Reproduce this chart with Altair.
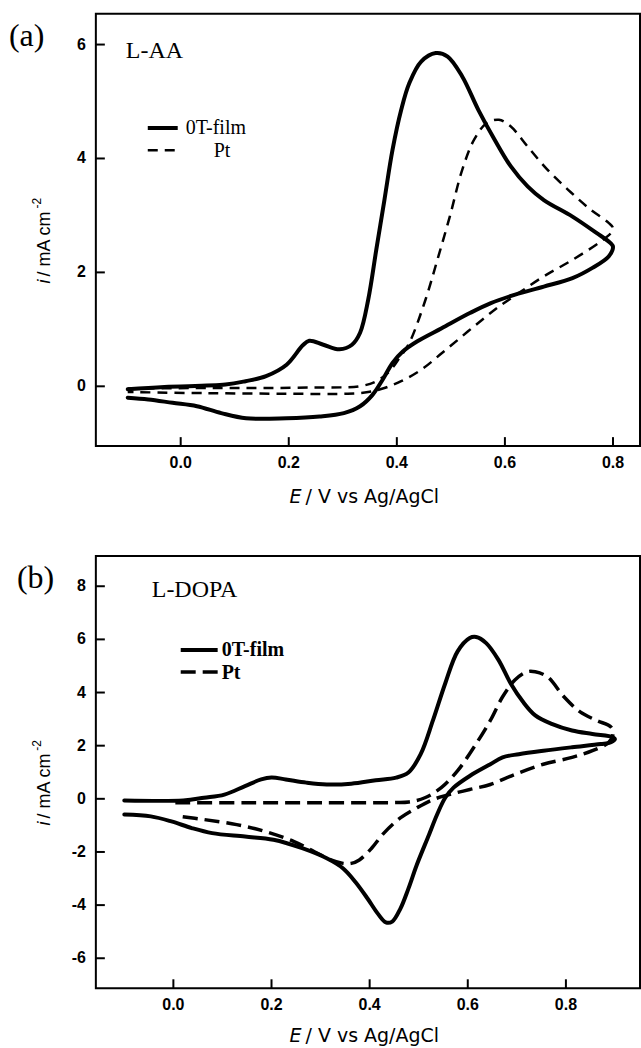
import altair as alt
import pandas as pd

# ---------------- Panel (a): L-AA ----------------
a_film_E = [-0.098, -0.03, 0.083, 0.12, 0.158, 0.196, 0.226, 0.238, 0.264, 0.294, 0.317, 0.332,
            0.347, 0.362, 0.377, 0.392, 0.408, 0.423, 0.445, 0.472, 0.494, 0.521, 0.551, 0.581,
            0.611, 0.642, 0.672, 0.725, 0.770, 0.796, 0.800,
            0.792, 0.762, 0.725, 0.672, 0.619, 0.574, 0.536, 0.483, 0.438, 0.411, 0.392, 0.374,
            0.355, 0.332, 0.302, 0.257, 0.196, 0.121, 0.075, 0.030, -0.015, -0.06, -0.098]
a_film_i = [-0.05, -0.01, 0.03, 0.09, 0.18, 0.38, 0.72, 0.80, 0.73, 0.65, 0.73, 0.94,
            1.52, 2.40, 3.27, 4.15, 4.85, 5.32, 5.70, 5.85, 5.79, 5.44, 4.85, 4.33,
            3.86, 3.51, 3.27, 2.98, 2.69, 2.51, 2.45,
            2.28, 2.08, 1.90, 1.75, 1.61, 1.46, 1.29, 1.02, 0.79, 0.61, 0.41, 0.12,
            -0.15, -0.35, -0.47, -0.53, -0.56, -0.56, -0.47, -0.35, -0.29, -0.23, -0.20]

a_pt_E = [-0.098, 0.05, 0.15, 0.25, 0.33, 0.36, 0.385, 0.405, 0.423, 0.453, 0.475, 0.498,
          0.521, 0.543, 0.566, 0.589, 0.611, 0.642, 0.679, 0.717, 0.755, 0.792, 0.800,
          0.796, 0.777, 0.725, 0.672, 0.626, 0.589, 0.558, 0.521, 0.483, 0.445, 0.408,
          0.377, 0.347, 0.309, 0.196, 0.045, -0.098]
a_pt_i = [-0.04, -0.03, -0.03, -0.02, 0.00, 0.08, 0.25, 0.50, 0.76, 1.52, 2.22, 2.98,
          3.80, 4.33, 4.62, 4.68, 4.56, 4.21, 3.80, 3.45, 3.13, 2.87, 2.78,
          2.69, 2.54, 2.22, 1.93, 1.64, 1.40, 1.17, 0.88, 0.58, 0.29, 0.09,
          -0.03, -0.10, -0.13, -0.13, -0.12, -0.10]

# ---------------- Panel (b): L-DOPA ----------------
b_film_E = [-0.10, 0.02, 0.0625, 0.104, 0.146, 0.179, 0.20, 0.229, 0.271, 0.3125, 0.3625, 0.4125,
            0.454, 0.479, 0.504, 0.529, 0.554, 0.579, 0.604, 0.617, 0.6375, 0.6625, 0.6875,
            0.7125, 0.7375, 0.771, 0.8125, 0.854, 0.896, 0.900,
            0.892, 0.871, 0.8125, 0.754, 0.704, 0.671, 0.646, 0.604, 0.571, 0.554, 0.5375,
            0.521, 0.496, 0.479, 0.4625, 0.446, 0.433, 0.417, 0.396, 0.371, 0.346, 0.3125,
            0.2625, 0.204, 0.146, 0.079, 0.0375, -0.004, -0.046, -0.10]
b_film_i = [-0.06, -0.06, 0.04, 0.16, 0.48, 0.73, 0.80, 0.73, 0.61, 0.54, 0.57, 0.70,
            0.80, 0.99, 1.68, 2.95, 4.34, 5.54, 6.05, 6.09, 5.86, 5.23, 4.34,
            3.65, 3.14, 2.82, 2.57, 2.44, 2.32, 2.25,
            2.13, 2.06, 1.94, 1.81, 1.68, 1.56, 1.30, 0.86, 0.42, 0.04, -0.59,
            -1.35, -2.49, -3.38, -4.14, -4.62, -4.65, -4.33, -3.76, -3.13, -2.62, -2.24,
            -1.86, -1.54, -1.42, -1.29, -1.10, -0.85, -0.66, -0.59]

b_pt_E = [0.004, 0.15, 0.30, 0.45, 0.48, 0.5125, 0.546, 0.579, 0.6125, 0.646, 0.671, 0.696,
          0.721, 0.7375, 0.7625, 0.796, 0.829, 0.8625, 0.892, 0.896,
          0.8875, 0.854, 0.8125, 0.754, 0.696, 0.646, 0.604, 0.5625, 0.529, 0.496, 0.4625,
          0.429, 0.404, 0.379, 0.3625, 0.346, 0.321, 0.2875, 0.246, 0.1875, 0.129, 0.0625, 0.0125]
b_pt_i = [-0.15, -0.15, -0.15, -0.14, -0.12, 0.04, 0.42, 1.05, 1.94, 2.95, 3.84, 4.47,
          4.78, 4.78, 4.59, 3.84, 3.27, 2.95, 2.70, 2.44,
          2.13, 1.81, 1.56, 1.30, 0.92, 0.54, 0.35, 0.16, -0.03, -0.34, -0.72,
          -1.29, -1.86, -2.30, -2.43, -2.43, -2.30, -1.99, -1.61, -1.23, -0.97, -0.78, -0.66]

x_ticks_a = [0.0, 0.2, 0.4, 0.6, 0.8]
y_ticks_a = [0, 2, 4, 6]
x_ticks_b = [0.0, 0.2, 0.4, 0.6, 0.8]
y_ticks_b = [-6, -4, -2, 0, 2, 4, 6, 8]

W, H = 545, 433
one = pd.DataFrame({"k": [0]})
TICK_FONT = "Liberation Sans"


def curve(E, i):
    return pd.DataFrame({"E": E, "i": i, "k": list(range(len(E)))})


def txt(s, x, y, size, font="Liberation Serif", weight="normal", style="normal",
        align="left", angle=0, baseline="middle"):
    return alt.Chart(one).mark_text(
        text=s, font=font, fontSize=size, fontWeight=weight, fontStyle=style,
        align=align, baseline=baseline, angle=angle, color="black"
    ).encode(x=alt.value(x), y=alt.value(y))


def panel(film, pt, xdom, ydom, xt, yt, tag, tag_x, name, name_x, name_y,
          leg, dash, dash_w, leg_font_w, xtitle_dy):
    xs = alt.Scale(domain=xdom, nice=False, zero=False)
    ys = alt.Scale(domain=ydom, nice=False, zero=False)
    solid = alt.Chart(film).mark_line(
        color="black", strokeWidth=4, interpolate="catmull-rom",
        strokeCap="round", strokeJoin="round"
    ).encode(x=alt.X("E:Q", scale=xs, axis=None),
             y=alt.Y("i:Q", scale=ys, axis=None),
             order="k:Q")
    dashed = alt.Chart(pt).mark_line(
        color="black", strokeWidth=dash_w, interpolate="catmull-rom", strokeDash=dash
    ).encode(x=alt.X("E:Q", scale=xs, axis=None),
             y=alt.Y("i:Q", scale=ys, axis=None),
             order="k:Q")
    xdf = pd.DataFrame({"t": xt, "lab": [f"{v:.1f}" for v in xt]})
    ydf = pd.DataFrame({"t": yt, "lab": [str(v) for v in yt]})
    xtk = alt.Chart(xdf).mark_rule(color="black", strokeWidth=2).encode(
        x=alt.X("t:Q", scale=xs, axis=None), y=alt.value(H), y2=alt.value(H - 9))
    ytk = alt.Chart(ydf).mark_rule(color="black", strokeWidth=2).encode(
        y=alt.Y("t:Q", scale=ys, axis=None), x=alt.value(0), x2=alt.value(9))
    xlab = alt.Chart(xdf).mark_text(
        font=TICK_FONT, fontSize=16, fontWeight="bold", baseline="top", align="center",
        color="black"
    ).encode(x=alt.X("t:Q", scale=xs, axis=None), y=alt.value(H + 9), text="lab:N")
    ylab = alt.Chart(ydf).mark_text(
        font=TICK_FONT, fontSize=16, fontWeight="bold", baseline="middle", align="right",
        color="black"
    ).encode(y=alt.Y("t:Q", scale=ys, axis=None), x=alt.value(-10), text="lab:N")
    lx0, lx1, ly_s, ly_d, tx_f, tx_p, ldx1 = leg
    leg_s = alt.Chart(one).mark_rule(color="black", strokeWidth=4).encode(
        x=alt.value(lx0), x2=alt.value(lx1), y=alt.value(ly_s))
    leg_d = alt.Chart(one).mark_rule(color="black", strokeWidth=dash_w, strokeDash=dash).encode(
        x=alt.value(lx0), x2=alt.value(ldx1), y=alt.value(ly_d))
    layers = [
        dashed, solid, xtk, ytk, xlab, ylab, leg_s, leg_d,
        txt("0T-film", tx_f, ly_s, 20, weight=leg_font_w),
        txt("Pt", tx_p, ly_d + 1, 20, weight=leg_font_w),
        txt(tag, tag_x, 22, 32),
        txt(name, name_x, name_y, 24),
        # x-axis title
        txt("E", 206, H + xtitle_dy, 19, font="DejaVu Sans", style="italic", align="right"),
        txt("/ V vs Ag/AgCl", 210, H + xtitle_dy, 19, font="DejaVu Sans"),
        # y-axis title (rotated)
        txt("i", -46, 270, 18, font="Liberation Sans", style="italic", angle=270,
            baseline="alphabetic"),
        txt("/ mA cm", -46, 263, 18, font="Liberation Sans", angle=270, baseline="alphabetic"),
        txt("-2", -55, 195, 12, font="Liberation Sans", angle=270, baseline="alphabetic"),
    ]
    return alt.layer(*layers).properties(
        width=W, height=H,
        view=alt.ViewBackground(stroke="black", strokeWidth=2, fill="white"),
    )


pa = panel(curve(a_film_E, a_film_i), curve(a_pt_E, a_pt_i),
           [-0.157, 0.85], [-1.05, 6.54], x_ticks_a, y_ticks_a,
           "(a)", -87, "L-AA", 30, 37,
           (52, 82, 114.4, 136.7, 90, 118, 79), [10, 7], 2.5, "normal", 51)
pb = panel(curve(b_film_E, b_film_i), curve(b_pt_E, b_pt_i),
           [-0.158, 0.951], [-7.13, 9.14], x_ticks_b, y_ticks_b,
           "(b)", -79, "L-DOPA", 56, 34,
           (85, 122, 94.3, 116.2, 126, 126, 122), [15, 7], 3.5, "bold", 48)

chart = alt.vconcat(pa, pb, spacing=110, bounds="flush").properties(
    padding={"left": 8, "top": 12, "right": 0, "bottom": 0}
).configure(background="white", view=alt.ViewConfig(stroke="black", strokeWidth=2))

chart.save("out.html", embed_options={"renderer": "svg", "actions": False})
